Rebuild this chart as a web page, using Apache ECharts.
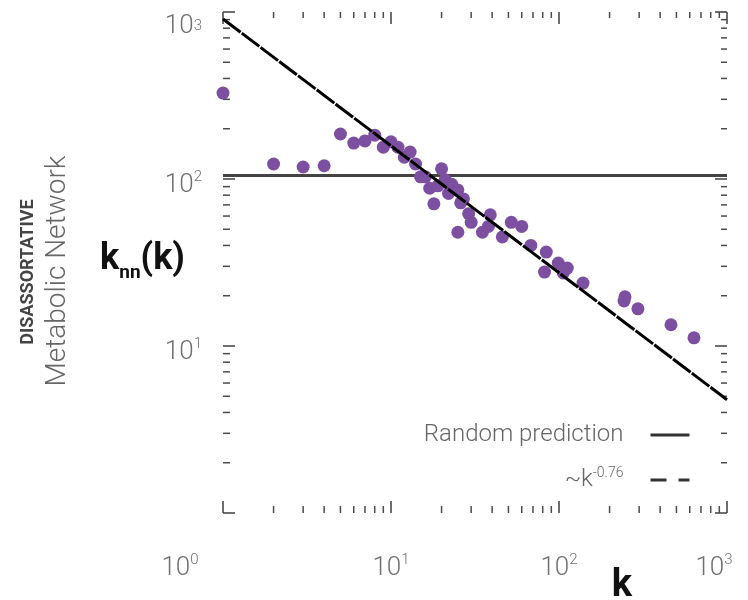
<!DOCTYPE html>
<html>
<head>
<meta charset="utf-8">
<script src="https://cdn.jsdelivr.net/npm/echarts@6/dist/echarts.min.js"></script>
<style>
  html, body { margin: 0; padding: 0; background: #fff; }
  #chart { width: 748px; height: 600px; }
</style>
</head>
<body>
<div id="chart"></div>
<script>
// degree k and average neighbour degree knn(k)
const degree = [1, 2, 3, 4, 5, 6, 7, 8, 9, 10, 11, 12, 13, 14, 15, 16, 17, 19, 20, 21,
  23, 22, 25, 18, 27, 26, 29, 30, 25, 39, 35, 38, 46, 52, 60, 68, 84, 99, 82, 106,
  112, 139, 247, 244, 295, 464, 636];
const knn = [327, 123, 118, 120, 186, 164, 169, 183, 155, 167, 155, 135, 145, 123, 103, 103, 88, 91, 115, 99,
  93, 82, 86, 71, 76, 72, 62, 55, 48, 61, 48, 52, 45, 55, 52, 40, 36.5, 31.4, 27.7, 27.4,
  29.3, 23.8, 19.7, 18.6, 16.7, 13.4, 11.2];

// the two reference lines (end points)
const randomLine = [[1, 105], [1000, 105]];
const fitLine = [[1, 908], [1000, 4.77]];

// axis range and minor ticks
const axisMin = 1;
const axisMax = 1000;
const minorTicks = [2, 3, 4, 5, 6, 7, 8, 9, 20, 30, 40, 50, 60, 70, 80, 90, 200, 300, 400, 500, 600, 700, 800, 900];
const expLabels = {1: '0', 10: '1', 100: '2', 1000: '3'};

const tickColor = '#4a4a4a';
const labelColor = '#707070';
const font = 'Roboto';

const myChart = echarts.init(document.getElementById('chart'));

function xMinor(params, api) {
  const v = api.value(0);
  const b = api.coord([v, axisMin]);
  const t = api.coord([v, axisMax]);
  const style = {stroke: tickColor, lineWidth: 1.5};
  return {
    type: 'group',
    children: [
      {type: 'line', shape: {x1: b[0], y1: b[1], x2: b[0], y2: b[1] - 7}, style},
      {type: 'line', shape: {x1: t[0], y1: t[1], x2: t[0], y2: t[1] + 6}, style}
    ]
  };
}

function yMinor(params, api) {
  const v = api.value(1);
  const l = api.coord([axisMin, v]);
  const r = api.coord([axisMax, v]);
  const style = {stroke: tickColor, lineWidth: 1.5};
  return {
    type: 'group',
    children: [
      {type: 'line', shape: {x1: l[0], y1: l[1], x2: l[0] + 7, y2: l[1]}, style},
      {type: 'line', shape: {x1: r[0], y1: r[1], x2: r[0] - 6, y2: r[1]}, style}
    ]
  };
}

const labelRich = {
  b: {fontSize: 26, lineHeight: 30, color: labelColor, fontFamily: font, fontWeight: 300},
  s: {fontSize: 15, lineHeight: 15, color: labelColor, fontFamily: font, fontWeight: 300, verticalAlign: 'top'},
  s0: {fontSize: 15, lineHeight: 15, color: labelColor, fontFamily: font, fontWeight: 300, verticalAlign: 'top', padding: [0, 86, 0, 0]},
  s3: {fontSize: 15, lineHeight: 15, color: labelColor, fontFamily: font, fontWeight: 300, verticalAlign: 'top', padding: [0, 26, 0, 0]},
  bt: {fontSize: 26, lineHeight: 30, color: labelColor, fontFamily: font, fontWeight: 300, padding: [16, 0, 0, 0]},
  st: {fontSize: 15, lineHeight: 15, color: labelColor, fontFamily: font, fontWeight: 300, verticalAlign: 'top', padding: [16, 0, 0, 0]}
};

const hiddenAxis = {
  type: 'log',
  logBase: 10,
  min: axisMin,
  max: axisMax,
  axisLine: {show: false},
  axisTick: {show: true, inside: true, length: 12, lineStyle: {color: tickColor, width: 1.6}},
  axisLabel: {show: false},
  splitLine: {show: false}
};

const option = {
  backgroundColor: '#fff',
  animation: false,
  grid: {left: 223, right: 21, top: 12, bottom: 87, containLabel: false, outerBoundsMode: 'none'},
  legend: {
    orient: 'vertical',
    align: 'right',
    right: 52,
    top: 418,
    itemWidth: 39,
    itemHeight: 14,
    itemGap: 19,
    data: [
      {name: 'Random prediction', itemStyle: {opacity: 0}, lineStyle: {color: '#333', width: 3, type: 'solid'}},
      {name: '~k-0.76', itemStyle: {opacity: 0}, lineStyle: {color: '#333', width: 3, type: [16, 12]}}
    ],
    formatter: name => name === '~k-0.76' ? '{t|~k}{s|-0.76}' : '{t|' + name + '}',
    textStyle: {
      padding: [0, 22, 0, 0],
      rich: {
        t: {fontSize: 24, lineHeight: 28, color: '#666', fontFamily: font, fontWeight: 300},
        s: {fontSize: 14, lineHeight: 14, color: '#666', fontFamily: font, fontWeight: 300, verticalAlign: 'top'}
      }
    }
  },
  xAxis: [
    Object.assign({}, hiddenAxis, {
      position: 'bottom',
      name: 'k',
      nameLocation: 'middle',
      nameGap: 54,
      nameMoveOverlap: false,
      nameTextStyle: {fontSize: 38, fontWeight: 'bold', color: '#111', fontFamily: font, padding: [0, 0, 0, 294]},
      axisLabel: {
        show: true,
        margin: 40,
        formatter: v => {
          const e = expLabels[v];
          if (e === undefined) return '';
          const s = v === 1 ? 's0' : (v === 1000 ? 's3' : 's');
          return '{b|10}{' + s + '|' + e + '}';
        },
        rich: labelRich
      }
    }),
    Object.assign({}, hiddenAxis, {position: 'top'})
  ],
  yAxis: [
    Object.assign({}, hiddenAxis, {
      position: 'left',
      name: '{k|k}{n|nn}{k|(k)}',
      nameLocation: 'middle',
      nameRotate: 0,
      nameGap: 38,
      nameMoveOverlap: false,
      nameTextStyle: {
        rich: {
          k: {fontSize: 36, lineHeight: 40, fontWeight: 'bold', color: '#111', fontFamily: font, padding: [0, 0, 6, 0]},
          n: {fontSize: 19, lineHeight: 20, fontWeight: 'bold', color: '#111', fontFamily: font, verticalAlign: 'bottom'}
        }
      },
      axisLabel: {
        show: true,
        margin: 21,
        padding: [12, 0, 0, 0],
        formatter: v => {
          const e = expLabels[v];
          if (e === undefined || v === 1) return '';
          if (v === 1000) return '{bt|10}{st|' + e + '}';
          return '{b|10}{s|' + e + '}';
        },
        rich: labelRich
      }
    }),
    Object.assign({}, hiddenAxis, {position: 'right'})
  ],
  graphic: [
    {
      type: 'text',
      x: 58,
      y: 271,
      rotation: Math.PI / 2,
      style: {text: 'Metabolic Network', fontSize: 28, fontWeight: 300, fontFamily: font, fill: '#666', align: 'center', verticalAlign: 'middle'}
    },
    {
      type: 'text',
      x: 28,
      y: 272,
      rotation: Math.PI / 2,
      style: {text: 'DISASSORTATIVE', fontSize: 18, fontWeight: 'bold', fontFamily: font, fill: '#444', align: 'center', verticalAlign: 'middle'}
    }
  ],
  series: [
    {
      type: 'custom',
      name: 'xminor',
      renderItem: xMinor,
      data: minorTicks.map(v => [v, axisMin]),
      silent: true,
      z: 1
    },
    {
      type: 'custom',
      name: 'yminor',
      renderItem: yMinor,
      data: minorTicks.map(v => [axisMin, v]),
      silent: true,
      z: 1
    },
    {
      name: 'Random prediction',
      type: 'line',
      data: randomLine,
      symbol: 'none',
      lineStyle: {color: '#444', width: 3},
      z: 2
    },
    {
      name: 'knn',
      type: 'scatter',
      data: degree.map((k, i) => [k, knn[i]]),
      symbolSize: 13,
      itemStyle: {color: '#7d4fa1', opacity: 1},
      z: 3
    },
    {
      name: '~k-0.76',
      type: 'line',
      data: fitLine,
      symbol: 'none',
      lineStyle: {color: '#000', width: 3, type: [22, 1.5]},
      z: 4
    }
  ]
};

myChart.setOption(option);
</script>
</body>
</html>
